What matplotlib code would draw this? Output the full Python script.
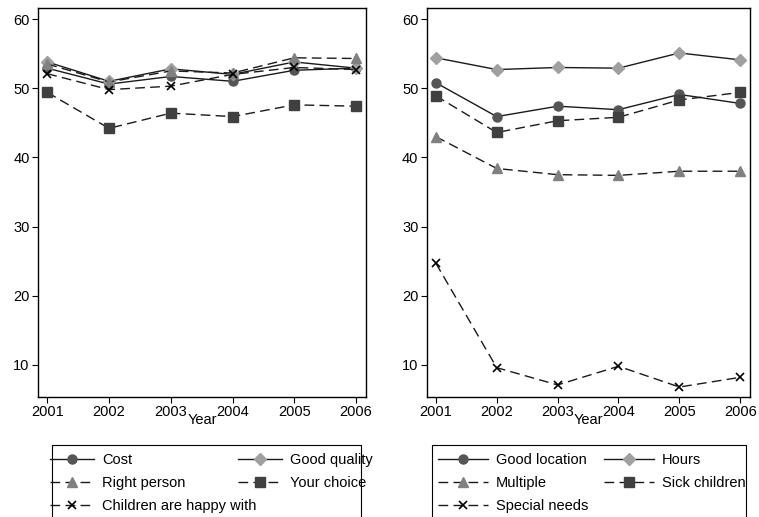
import matplotlib
matplotlib.use("Agg")
import matplotlib.pyplot as plt
from matplotlib.patches import Rectangle

plt.rcParams['font.family'] = ['Liberation Sans', 'DejaVu Sans']

years = [2001, 2002, 2003, 2004, 2005, 2006]

# left panel
cost = [52.9, 50.6, 51.7, 51.0, 52.6, 52.9]
good_quality = [53.8, 51.0, 52.8, 52.0, 53.8, 52.9]
right_person = [53.5, 50.9, 52.5, 52.2, 54.4, 54.3]
your_choice = [49.4, 44.2, 46.4, 45.9, 47.6, 47.4]
children_happy = [52.1, 49.8, 50.3, 52.0, 53.0, 52.7]

# right panel
good_location = [50.8, 45.9, 47.4, 46.9, 49.1, 47.8]
hours = [54.4, 52.7, 53.0, 52.9, 55.1, 54.1]
multiple = [43.0, 38.4, 37.5, 37.4, 38.0, 38.0]
sick_children = [48.9, 43.6, 45.3, 45.8, 48.3, 49.4]
special_needs = [24.7, 9.6, 7.1, 9.8, 6.8, 8.2]

W, H = 759, 517
fig = plt.figure(figsize=(W / 100, H / 100), dpi=100)

DASH = (0, (7, 3.8))
styles = [
    dict(marker='o', color='#1a1a1a', mfc='#555555', mec='#555555', ls='-', ms=6.5),
    dict(marker='D', color='#1a1a1a', mfc='#a0a0a0', mec='#a0a0a0', ls='-', ms=6),
    dict(marker='^', color='#1a1a1a', mfc='#808080', mec='#808080', ls=DASH, ms=7),
    dict(marker='s', color='#1a1a1a', mfc='#404040', mec='#404040', ls=DASH, ms=6.5),
    dict(marker='x', color='#1a1a1a', mfc='black', mec='black', ls=DASH, ms=5.5, mew=1.2),
]


def panel(rect, series, labels):
    ax = fig.add_axes(rect)
    lines = []
    for vals, st, lab in zip(series, styles, labels):
        ln, = ax.plot(years, vals, lw=1.0, label=lab, **st)
        lines.append(ln)
    ax.set_xlim(2000.85, 2006.16)
    ax.set_ylim(5.4, 61.6)
    ax.set_yticks([10, 20, 30, 40, 50, 60])
    ax.set_xticks(years)
    ax.tick_params(direction='out', length=4, labelsize=10.5, pad=2)
    ax.set_xlabel('Year', fontsize=10.5, labelpad=-4)
    for sp in ax.spines.values():
        sp.set_linewidth(1.0)
    return ax, lines


def fx(px):
    return px / W


def fy(py):
    return 1 - py / H


axL, linesL = panel([fx(38), fy(396.7), fx(366 - 38), fy(8) - fy(396.7)],
                    [cost, good_quality, right_person, your_choice, children_happy],
                    ['Cost', 'Good quality', 'Right person', 'Your choice',
                     'Children are happy with'])
axR, linesR = panel([fx(426.7), fy(396.7), fx(750 - 426.7), fy(8) - fy(396.7)],
                    [good_location, hours, multiple, sick_children, special_needs],
                    ['Good location', 'Hours', 'Multiple', 'Sick children',
                     'Special needs'])


def legend(lines, box_x0, box_x1, col1_x, col2_x, hl):
    fig.patches.append(Rectangle((fx(box_x0), fy(540)), fx(box_x1 - box_x0),
                                 fy(445) - fy(540), transform=fig.transFigure,
                                 fill=False, ec='black', lw=0.8))
    kw = dict(loc='upper left', frameon=False, fontsize=10.5, borderpad=0,
              borderaxespad=0, handlelength=hl, handletextpad=0.55,
              labelspacing=0.62)
    c1 = [lines[0], lines[2], lines[4]]
    c2 = [lines[1], lines[3]]
    fig.legend(c1, [l.get_label() for l in c1],
               bbox_to_anchor=(fx(col1_x), fy(453)), **kw)
    fig.legend(c2, [l.get_label() for l in c2],
               bbox_to_anchor=(fx(col2_x), fy(453)), **kw)


legend(linesL, 52, 361, 50, 238, 3.0)
legend(linesR, 432, 746, 438, 604, 3.4)

fig.savefig('out.png', dpi=100)
